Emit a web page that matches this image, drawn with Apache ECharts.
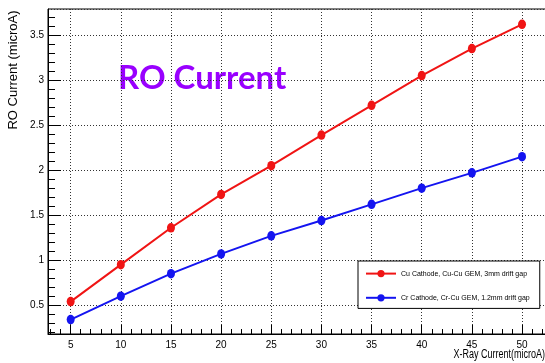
<!DOCTYPE html>
<html>
<head>
<meta charset="utf-8">
<script src="https://cdn.jsdelivr.net/npm/echarts@6/dist/echarts.min.js"></script>
<style>
  html, body { margin: 0; padding: 0; background: #fff; }
  #chart { width: 545px; height: 363px; }
</style>
</head>
<body>
<div id="chart"></div>
<script>
// X-ray tube current (microA) and readout current (microA) for the two setups
const xRayCurrent = [5, 10, 15, 20, 25, 30, 35, 40, 45, 50];
const cuCathode   = [0.54, 0.95, 1.36, 1.73, 2.05, 2.39, 2.72, 3.05, 3.35, 3.62];
const crCathode   = [0.34, 0.60, 0.85, 1.07, 1.27, 1.44, 1.62, 1.80, 1.97, 2.15];
const seriesNames = [
  'Cu Cathode, Cu-Cu GEM, 3mm drift gap',
  'Cr Cathode, Cr-Cu GEM, 1.2mm drift gap'
];
const chartTitle = 'RO Current';
const xAxisTitle = 'X-Ray Current(microA)';
const yAxisTitle = 'RO Current (microA)';

// axis ranges
const xRange = [2.74, 52.59];
const yRange = [0.18, 3.79];

// minor tick positions: every 1 on x, every 0.1 on y
const xMinorTicks = [];
for (let v = 3; v <= 52; v++) xMinorTicks.push(v);
const yMinorTicks = [];
for (let k = 2; k <= 37; k++) yMinorTicks.push(k / 10);

const FONT = '"Liberation Sans", Arial, Helvetica, sans-serif';
const RED = '#f01414';
const BLUE = '#1414f0';

const toPairs = (xs, ys) => xs.map((x, i) => [x, ys[i]]);

const chart = echarts.init(document.getElementById('chart'));

const dotted = { color: '#333', type: [1, 2], width: 1 };

chart.setOption({
  animation: false,
  backgroundColor: '#fff',
  grid: {
    left: 48, top: 9, width: 500, bottom: 29,
    outerBoundsMode: 'none',
    show: true, borderColor: '#000', borderWidth: 1, backgroundColor: 'transparent'
  },
  xAxis: [
    {
      type: 'value', min: xRange[0], max: xRange[1], splitNumber: 10,
      axisLine: { lineStyle: { color: '#000', width: 1 } },
      axisTick: { inside: true, length: 9, lineStyle: { color: '#000' } },
      axisLabel: {
        showMinLabel: false, showMaxLabel: false,
        color: '#000', fontSize: 10, margin: 6, fontFamily: FONT
      },
      splitLine: { show: true, lineStyle: dotted }
    },
    {
      type: 'value', min: xRange[0], max: xRange[1], position: 'bottom',
      axisLine: { show: false },
      axisTick: { inside: true, length: 5, customValues: xMinorTicks, lineStyle: { color: '#000' } },
      axisLabel: { show: false },
      splitLine: { show: false }
    }
  ],
  yAxis: [
    {
      type: 'value', min: yRange[0], max: yRange[1], splitNumber: 7,
      axisLine: { show: true, lineStyle: { color: '#000', width: 1 } },
      axisTick: { show: true, inside: true, length: 13, lineStyle: { color: '#000' } },
      axisLabel: {
        showMinLabel: false, showMaxLabel: false,
        color: '#000', fontSize: 10, margin: 4, fontFamily: FONT
      },
      splitLine: { show: true, lineStyle: dotted }
    },
    {
      type: 'value', min: yRange[0], max: yRange[1], position: 'left',
      axisLine: { show: false },
      axisTick: { show: true, inside: true, length: 7, customValues: yMinorTicks, lineStyle: { color: '#000' } },
      axisLabel: { show: false },
      splitLine: { show: false }
    }
  ],
  legend: {
    orient: 'vertical',
    left: 358, top: 261,
    padding: [9, 10, 7, 7],
    itemGap: 17,
    itemWidth: 30, itemHeight: 9,
    backgroundColor: '#fff',
    borderColor: '#000', borderWidth: 1, borderRadius: 0,
    selectedMode: false,
    textStyle: { fontSize: 7, color: '#000', fontFamily: FONT, width: 175 },
    data: seriesNames
  },
  series: [
    {
      name: seriesNames[0], type: 'line',
      data: toPairs(xRayCurrent, cuCathode),
      symbol: 'circle', symbolSize: [8, 9.5],
      lineStyle: { color: RED, width: 2 },
      itemStyle: { color: RED }
    },
    {
      name: seriesNames[1], type: 'line',
      data: toPairs(xRayCurrent, crCathode),
      symbol: 'circle', symbolSize: [8, 9.5],
      lineStyle: { color: BLUE, width: 2 },
      itemStyle: { color: BLUE }
    }
  ],
  graphic: [
    {
      type: 'text', x: 118, y: 78,
      style: {
        text: chartTitle, fill: '#9900ff',
        font: 'bold 33px Lato, "Open Sans", sans-serif',
        align: 'left', verticalAlign: 'middle'
      }
    },
    {
      type: 'text', x: 13, y: 70, rotation: Math.PI / 2,
      style: {
        text: yAxisTitle, fill: '#000',
        font: '13px ' + FONT,
        align: 'center', verticalAlign: 'middle'
      }
    },
    {
      type: 'text', x: 545, y: 355, scaleX: 0.75,
      style: {
        text: xAxisTitle, fill: '#000',
        font: '12px ' + FONT,
        align: 'right', verticalAlign: 'middle'
      }
    }
  ]
});
</script>
</body>
</html>
